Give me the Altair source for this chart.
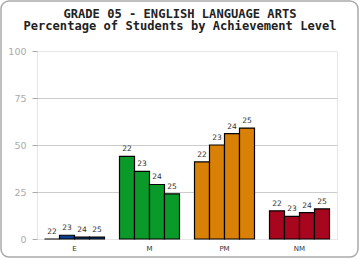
import altair as alt
import pandas as pd

levels = ["E", "M", "PM", "NM"]
years = ["22", "23", "24", "25"]
values = {
    "E": [0, 2, 1, 1],
    "M": [44, 36, 29, 24],
    "PM": [41, 50, 56, 59],
    "NM": [15, 12, 14, 16],
}
colors = ["#0b3f8f", "#0a9a2a", "#d98006", "#a8061f"]
title_lines = ["GRADE 05 - ENGLISH LANGUAGE ARTS", "Percentage of Students by Achievement Level"]

rows = []
for lv in levels:
    for yr, v in zip(years, values[lv]):
        rows.append({"level": lv, "year": yr, "value": v})
df = pd.DataFrame(rows)

xenc = alt.X("level:N", sort=levels, title=None,
             scale=alt.Scale(paddingInner=0.2, paddingOuter=0.1),
             axis=alt.Axis(labelAngle=0, ticks=False, domain=False, labelFont="DejaVu Sans",
                           labelFontSize=7, labelColor="#333", labelPadding=5))
yenc = alt.Y("value:Q", title=None, scale=alt.Scale(domain=[0, 100]),
             axis=alt.Axis(values=[0, 25, 50, 75, 100], domain=False, tickSize=5, tickColor="#aaa",
                           labelColor="#aaa", labelFont="DejaVu Sans", labelFontSize=9.5, labelPadding=6,
                           grid=True, gridColor="#999", gridDash=[1, 1],
                           gridOpacity={"condition": {"test": "datum.value == 0 || datum.value == 100", "value": 0}, "value": 1}))
xoff = alt.XOffset("year:N", sort=years, scale=alt.Scale(paddingInner=0, paddingOuter=0))

bars = alt.Chart(df).mark_bar(stroke="black", strokeWidth=1.2).encode(
    x=xenc, y=yenc, xOffset=xoff,
    color=alt.Color("level:N", sort=levels, scale=alt.Scale(domain=levels, range=colors), legend=None),
)
labels = alt.Chart(df).mark_text(baseline="bottom", dy=-3, font="DejaVu Sans", fontSize=7.5, color="#333").encode(
    x=alt.X("level:N", sort=levels), y="value:Q", xOffset=alt.XOffset("year:N", sort=years), text="year:N"
)
title = alt.Chart(pd.DataFrame({"t": [title_lines]})).mark_text(
    font="DejaVu Sans Mono", fontSize=12.1, fontWeight="bold", color="#222",
    lineHeight=12, align="center", baseline="alphabetic", clip=False
).encode(x=alt.value(143), y=alt.value(-33), text="t")
frame = alt.Chart(pd.DataFrame({"a": [0]})).mark_rect(
    fill=None, stroke="#aaa", strokeWidth=1.5, cornerRadius=8, clip=False
).encode(x=alt.value(-36), x2=alt.value(321), y=alt.value(-50), y2=alt.value(206))

chart = alt.layer(bars, labels, title, frame).properties(
    width=300, height=188,
    autosize=alt.AutoSizeParams(type="none"),
    padding={"left": 37, "top": 51, "right": 23, "bottom": 21},
).configure_view(stroke="#e6e6e6", strokeWidth=1)

chart.save("out.html", embed_options={"renderer": "svg", "actions": False})
